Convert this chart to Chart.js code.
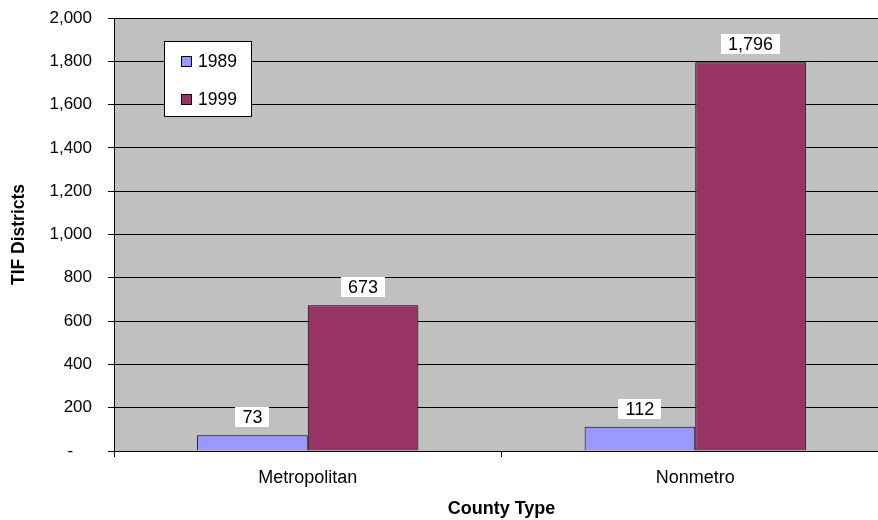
<!DOCTYPE html>
<html>
<head>
<meta charset="utf-8">
<script src="https://cdn.jsdelivr.net/npm/chart.js@4/dist/chart.umd.min.js"></script>
<style>
  html, body { margin: 0; padding: 0; background: #fff; overflow: hidden; }
  #wrap { width: 889px; height: 520px; }
</style>
</head>
<body>
<div id="wrap"><canvas id="c" width="889" height="520"></canvas></div>
<script>
// TIF districts by county type, 1989 vs 1999
const categories = ['Metropolitan', 'Nonmetro'];
const seriesNames = ['1989', '1999'];
const values1989 = [73, 112];
const values1999 = [673, 1796];
const yTicks = [0, 200, 400, 600, 800, 1000, 1200, 1400, 1600, 1800, 2000];

const FONT = '"Liberation Sans", Arial, Helvetica, sans-serif';
const colors = ['#9999FF', '#993366'];

function fmt(v) {
  return v === 0 ? '-\u2007\u2007' : v.toLocaleString('en-US');
}

// gray plot background
const plotBackground = {
  id: 'plotBackground',
  beforeDraw(chart) {
    const { ctx, chartArea: a } = chart;
    ctx.save();
    ctx.fillStyle = '#C0C0C0';
    ctx.fillRect(a.left, a.top, a.right - a.left, a.bottom - a.top);
    ctx.restore();
  }
};

// value labels in white boxes above each bar
const valueLabels = {
  id: 'valueLabels',
  afterDatasetsDraw(chart) {
    const ctx = chart.ctx;
    ctx.save();
    ctx.font = '18px ' + FONT;
    ctx.textAlign = 'center';
    ctx.textBaseline = 'middle';
    chart.data.datasets.forEach((ds, i) => {
      chart.getDatasetMeta(i).data.forEach((bar, j) => {
        const txt = fmt(ds.data[j]);
        const w = Math.round(ctx.measureText(txt).width + 14);
        const h = 20;
        const x = Math.round(bar.x - w / 2);
        const y = Math.round(bar.y - 8 - h);
        ctx.fillStyle = '#fff';
        ctx.fillRect(x, y, w, h);
        ctx.fillStyle = '#000';
        ctx.fillText(txt, bar.x, y + h / 2 + 1);
      });
    });
    ctx.restore();
  }
};

// boxed legend inside the plot area
const boxLegend = {
  id: 'boxLegend',
  afterDraw(chart) {
    const { ctx, chartArea: a } = chart;
    const bx = a.left + 50, by = a.top + 23;
    ctx.save();
    ctx.fillStyle = '#fff';
    ctx.fillRect(bx, by, 88, 76);
    ctx.strokeStyle = '#000';
    ctx.lineWidth = 1;
    ctx.strokeRect(bx + 0.5, by + 0.5, 87, 75);
    ctx.font = '17.5px ' + FONT;
    ctx.textBaseline = 'middle';
    ctx.textAlign = 'left';
    chart.data.datasets.forEach((ds, i) => {
      const sy = by + 15 + i * 38;
      ctx.fillStyle = ds.backgroundColor;
      ctx.fillRect(bx + 17, sy, 11, 11);
      ctx.strokeRect(bx + 17.5, sy + 0.5, 10, 10);
      ctx.fillStyle = '#000';
      ctx.fillText(ds.label, bx + 34, sy + 6.5);
    });
    ctx.restore();
  }
};

new Chart(document.getElementById('c'), {
  type: 'bar',
  data: {
    labels: categories,
    datasets: [
      { label: seriesNames[0], data: values1989, backgroundColor: colors[0], borderColor: '#000', borderWidth: 1 },
      { label: seriesNames[1], data: values1999, backgroundColor: colors[1], borderColor: '#000', borderWidth: 1 }
    ]
  },
  options: {
    responsive: false,
    animation: false,
    layout: { padding: { top: 18, right: 0, bottom: 0, left: 0 } },
    datasets: { bar: { categoryPercentage: 0.571, barPercentage: 1.0 } },
    plugins: { legend: { display: false }, tooltip: { enabled: false } },
    scales: {
      x: {
        grid: { drawOnChartArea: false, drawTicks: true, tickLength: 6, color: '#000', offset: true },
        border: { color: '#000', width: 1 },
        ticks: { color: '#000', font: { family: FONT, size: 18 }, padding: 10 },
        title: { display: true, text: 'County Type', color: '#000', font: { family: FONT, size: 18, weight: 'bold' }, padding: { top: 0, bottom: 0 } },
        afterFit(scale) { scale.height = 69; }
      },
      y: {
        min: yTicks[0],
        max: yTicks[yTicks.length - 1],
        afterBuildTicks(scale) { scale.ticks = yTicks.map(v => ({ value: v })); },
        grid: { color: '#000', lineWidth: 1, tickLength: 6, drawTicks: true },
        border: { color: '#000', width: 1 },
        ticks: { color: '#000', font: { family: FONT, size: 17 }, padding: 16, callback: v => fmt(v) },
        title: { display: true, text: 'TIF Districts', color: '#000', font: { family: FONT, size: 17.5, weight: 'bold' }, padding: { top: 9, bottom: 0 } },
        afterFit(scale) { scale.width = 114; scale.paddingTop = 0; scale.paddingBottom = 0; }
      }
    }
  },
  plugins: [plotBackground, valueLabels, boxLegend]
});
</script>
</body>
</html>
